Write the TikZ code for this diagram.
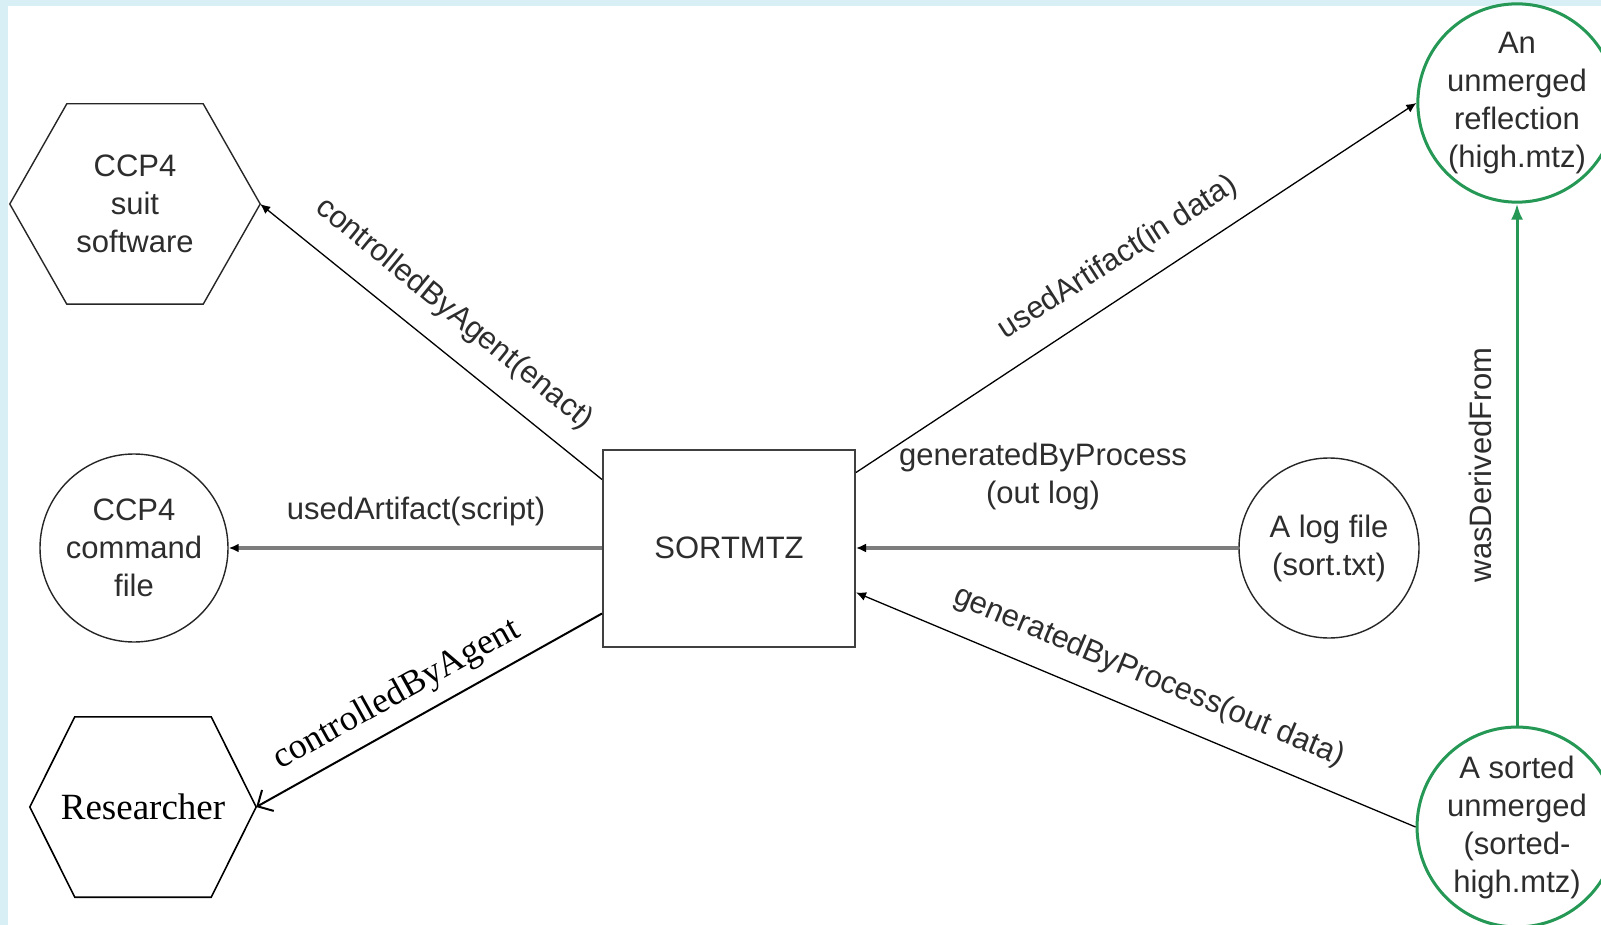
\documentclass[tikz,border=0pt]{standalone}
\usepackage{fontspec}
\setmainfont{Liberation Serif}
\setsansfont{Liberation Sans}
\usetikzlibrary{arrows.meta}
\definecolor{bgblue}{RGB}{215,239,245}
\definecolor{provgreen}{RGB}{36,152,84}
\definecolor{txtgray}{RGB}{45,45,45}
\definecolor{linegray}{RGB}{125,125,125}
\begin{document}
\begin{tikzpicture}[x=1pt,y=-1pt,
  sanstext/.style={font=\sffamily\fontsize{31}{38}\selectfont, text=txtgray, align=center},
  hexbox/.style={draw=none, inner sep=0pt, sanstext},
  circnode/.style={circle, draw=black!85, line width=1.4pt, inner sep=0pt, sanstext},
  greencirc/.style={circle, draw=provgreen, line width=3pt, inner sep=0pt, sanstext},
  procbox/.style={rectangle, draw=black!75, line width=2pt, inner sep=0pt, sanstext},
  thinarrow/.style={draw=black, line width=1.3pt, -{Latex[length=10pt,width=9pt]}},
  grayarrow/.style={draw=linegray, line width=3.5pt, -{Latex[length=10pt,width=9pt,color=black]}},
  greenarrow/.style={draw=provgreen, line width=3pt, -{Latex[length=16pt,width=12pt]}},
  lbl/.style={sanstext, inner sep=0pt},
  serifl/.style={font=\rmfamily\fontsize{36}{40}\selectfont, text=black, inner sep=0pt}
]
\useasboundingbox (0,0) rectangle (1601,925);
\fill[bgblue] (0,0) rectangle (1601,925);
\fill[white] (8,6) rectangle (1601,925);

% nodes
\node[hexbox, minimum width=250pt, minimum height=200pt] (suit) at (135,204) {CCP4\\suit\\software};
\draw[black!85, line width=1.4pt] (suit.west) -- ([xshift=57pt]suit.north west) -- ([xshift=-57pt]suit.north east) -- (suit.east) -- ([xshift=-57pt]suit.south east) -- ([xshift=57pt]suit.south west) -- cycle;

\node[circnode, minimum size=188pt] (cmd) at (134,548) {CCP4\\command\\file};

\node[draw=none, inner sep=0pt, minimum width=226pt, minimum height=180pt, font=\rmfamily\fontsize{37}{40}\selectfont] (res) at (143,807) {Researcher};
\draw[black, line width=1.6pt] (res.west) -- ([xshift=45pt]res.north west) -- ([xshift=-45pt]res.north east) -- (res.east) -- ([xshift=-45pt]res.south east) -- ([xshift=45pt]res.south west) -- cycle;

\node[procbox, minimum width=252pt, minimum height=197pt] (sort) at (729,548) {SORTMTZ};

\node[circnode, minimum size=180pt] (log) at (1329,548) {A log file\\(sort.txt)};

\node[greencirc, minimum size=184pt] (unm) at (1517,103) {An\\unmerged\\reflection\\(high.mtz)};
\node[greencirc, minimum size=184pt] (srt) at (1517,827) {A sorted\\unmerged\\(sorted-\\high.mtz)};

% connectors
\draw[thinarrow] ([yshift=-31pt]sort.north west) -- (suit.east);
\draw[grayarrow] (sort.west) -- (cmd.east);
\draw[black, line width=2pt, -{Straight Barb[length=12pt,width=24pt]}] ([yshift=34pt]sort.south west) -- (res.east);
\draw[thinarrow] ([yshift=-24pt]sort.north east) -- (unm.west);
\draw[grayarrow] (log.west) -- (sort.east);
\draw[thinarrow] (srt.west) -- ([yshift=55pt]sort.south east);
\draw[greenarrow] (srt.north) -- (unm.south);

% labels
\node[lbl, rotate=-39.2] (l1) at (454,314) {controlledByAgent(enact)};
\node[lbl] (l2) at (416,511) {usedArtifact(script)};
\node[serifl, rotate=29.1] (l3) at (397,695) {controlledByAgent};
\node[lbl, rotate=32.7] (l4) at (1118,258) {usedArtifact(in data)};
\node[lbl] (l5) at (1043,476) {generatedByProcess\\(out log)};
\node[lbl, rotate=-22.8] (l6) at (1149,677) {generatedByProcess(out data)};
\node[lbl, rotate=90] (l7) at (1480,465) {wasDerivedFrom};
\end{tikzpicture}
\end{document}
